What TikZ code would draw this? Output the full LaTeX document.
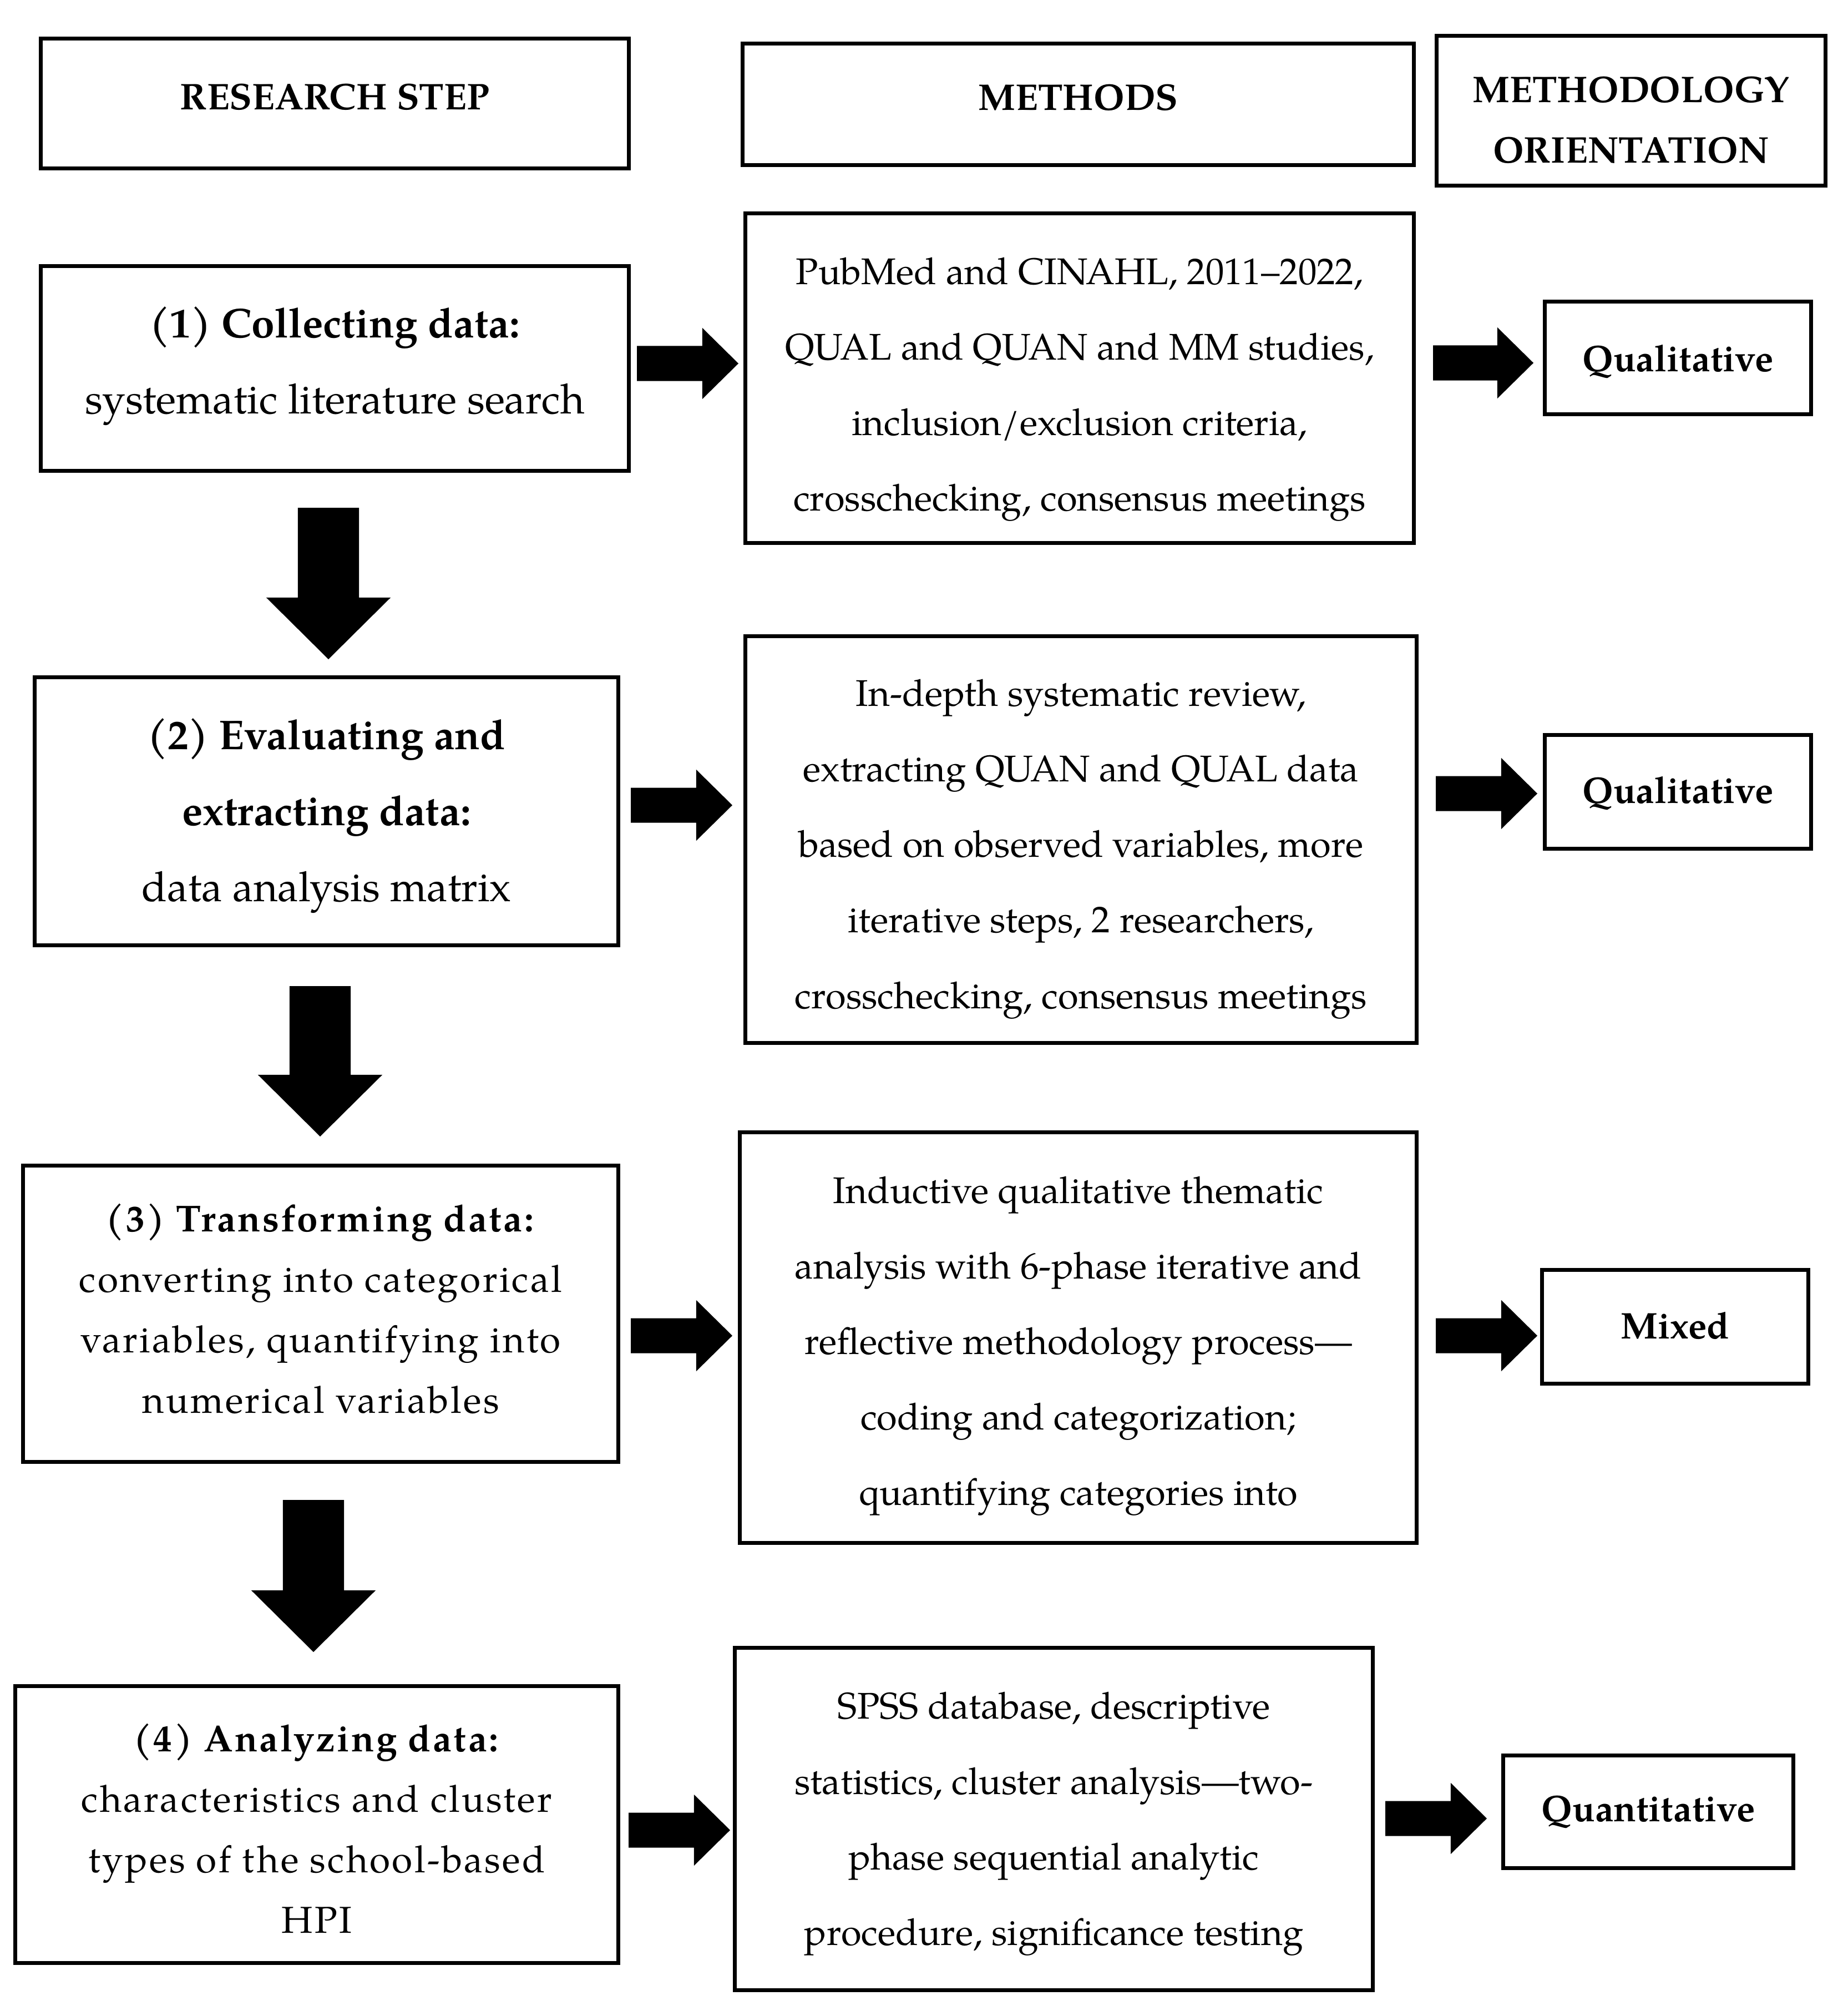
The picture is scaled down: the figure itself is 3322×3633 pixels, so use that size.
\documentclass[tikz,border=0pt]{standalone}
\usepackage{fontspec}
\setmainfont{texgyrepagella}[Extension=.otf, UprightFont=*-regular, BoldFont=*-bold, ItalicFont=*-italic, BoldItalicFont=*-bolditalic]
\newfontfamily\widefont{texgyrepagella}[Extension=.otf, UprightFont=*-regular, BoldFont=*-bold, LetterSpace=5]
\usetikzlibrary{calc}
\tikzset{
  box/.style={draw, line width=0.07cm, inner sep=0pt},
  txt/.style={inner sep=0pt, align=center},
  headtxt/.style={txt, font=\bfseries\fontsize{19pt}{31pt}\selectfont},
  steptxt/.style={txt, font=\fontsize{21.3pt}{39pt}\selectfont},
  widetxt/.style={txt, font=\widefont\fontsize{19.2pt}{31pt}\selectfont},
  methtxt/.style={txt, font=\fontsize{19pt}{38.7pt}\selectfont},
  oritxt/.style={txt, font=\bfseries\fontsize{19pt}{31pt}\selectfont},
  blockarrow/.style={fill=black}
}
\newcommand\harrow[2]{\fill[blockarrow] let \p1=(#1), \p2=(#2) in
  (\x1,\y1+0.315cm) -- (\x2-0.65cm,\y1+0.315cm) -- (\x2-0.65cm,\y1+0.64cm) --
  (\x2,\y1) -- (\x2-0.65cm,\y1-0.64cm) -- (\x2-0.65cm,\y1-0.315cm) -- (\x1,\y1-0.315cm) -- cycle;}
\newcommand\varrow[2]{\fill[blockarrow] let \p1=(#1), \p2=(#2) in
  (\x1-0.55cm,\y1) -- (\x1+0.55cm,\y1) -- (\x1+0.55cm,\y2+1.11cm) -- (\x1+1.12cm,\y2+1.11cm) --
  (\x1,\y2) -- (\x1-1.12cm,\y2+1.11cm) -- (\x1-0.55cm,\y2+1.11cm) -- cycle;}
\begin{document}
\begin{tikzpicture}[x=0.01cm,y=-0.01cm]
\useasboundingbox[fill=white] (0,0) rectangle (3322,3633);

% headers
\node[box, minimum width=10.59cm, minimum height=2.33cm] (h1) at (603.5,186.5) {};
\node[box, minimum width=12.09cm, minimum height=2.18cm] (h2) at (1943.5,188) {};
\node[box, minimum width=7.00cm, minimum height=2.69cm] (h3) at (2940,199.5) {};
\node[headtxt] (h1t) at ($(h1.center)+(0,-12)$) {RESEARCH STEP};
\node[headtxt] (h2t) at ($(h2.center)+(0,-12)$) {METHODS};
\node[headtxt] (h3t) at ($(h3.center)+(0,17)$) {METHODOLOGY\\ORIENTATION};

% row 1
\node[box, minimum width=10.59cm, minimum height=3.68cm] (s1) at (603.5,664) {};
\node[box, minimum width=12.04cm, minimum height=5.93cm] (m1) at (1946,681.5) {};
\node[box, minimum width=4.79cm, minimum height=2.02cm] (o1) at (3024.5,645) {};
\node[steptxt] (s1t) at ($(s1.center)+(0,-4)$) {\textbf{(1) Collecting data:}\\systematic literature search};
\node[methtxt] (m1t) at ($(m1.center)+(0,20)$)
  {PubMed and CINAHL, 2011–2022,\\QUAL and QUAN and MM studies,\\inclusion/exclusion criteria,\\crosschecking, consensus meetings};
\node[oritxt] (o1t) at ($(o1.center)+(0,7)$) {Qualitative};

% row 2
\node[box, minimum width=10.51cm, minimum height=4.82cm] (s2) at (588.5,1462) {};
\node[box, minimum width=12.09cm, minimum height=7.32cm] (m2) at (1948.5,1513) {};
\node[box, minimum width=4.79cm, minimum height=2.04cm] (o2) at (3024.5,1427) {};
\node[steptxt] (s2t) at ($(s2.center)+(0,8)$) {\textbf{(2) Evaluating and}\\\textbf{extracting data:}\\data analysis matrix};
\node[methtxt] (m2t) at ($(m2.center)+(0,17)$)
  {In-depth systematic review,\\extracting QUAN and QUAL data\\based on observed variables, more\\iterative steps, 2 researchers,\\crosschecking, consensus meetings};
\node[oritxt] (o2t) at ($(o2.center)+(0,3)$) {Qualitative};

% row 3
\node[box, minimum width=10.72cm, minimum height=5.33cm] (s3) at (578,2367.5) {};
\node[box, minimum width=12.19cm, minimum height=7.39cm] (m3) at (1943.5,2410.5) {};
\node[box, minimum width=4.79cm, minimum height=2.04cm] (o3) at (3019.5,2391) {};
\node[widetxt] (s3t) at ($(s3.center)+(0,-9)$) {\textbf{(3) Transforming data:}\\converting into categorical\\variables, quantifying into\\numerical variables};
\node[methtxt] (m3t) at ($(m3.center)+(0,15)$)
  {Inductive qualitative thematic\\analysis with 6-phase iterative and\\reflective methodology process—\\coding and categorization;\\quantifying categories into};
\node[oritxt] (o3t) at ($(o3.center)+(0,-2)$) {Mixed};

% row 4
\node[box, minimum width=10.86cm, minimum height=4.98cm] (s4) at (571,3288) {};
\node[box, minimum width=11.49cm, minimum height=6.16cm] (m4) at (1899.5,3278) {};
\node[box, minimum width=5.22cm, minimum height=2.02cm] (o4) at (2971,3265) {};
\node[widetxt] (s4t) at ($(s4.center)+(0,7)$) {\textbf{(4) Analyzing data:}\\characteristics and cluster\\types of the school-based\\HPI};
\node[methtxt] (m4t) at ($(m4.center)+(0,9)$)
  {SPSS database, descriptive\\statistics, cluster analysis—two-\\phase sequential analytic\\procedure, significance testing};
\node[oritxt] (o4t) at ($(o4.center)+(0,0)$) {Quantitative};

% arrow end points
\coordinate (a1s) at (1148,655);  \coordinate (a1e) at (1331,655);
\coordinate (b1s) at (2583,654);  \coordinate (b1e) at (2764,654);
\coordinate (a2s) at (1137,1451); \coordinate (a2e) at (1320,1451);
\coordinate (b2s) at (2588,1430); \coordinate (b2e) at (2771,1430);
\coordinate (a3s) at (1137,2407); \coordinate (a3e) at (1320,2407);
\coordinate (b3s) at (2588,2407); \coordinate (b3e) at (2771,2407);
\coordinate (a4s) at (1133,3298); \coordinate (a4e) at (1316,3298);
\coordinate (b4s) at (2497,3277); \coordinate (b4e) at (2680,3277);
\coordinate (d1s) at (592,915);   \coordinate (d1e) at (592,1188);
\coordinate (d2s) at (577,1777);  \coordinate (d2e) at (577,2048);
\coordinate (d3s) at (565,2703);  \coordinate (d3e) at (565,2977);

\harrow{a1s}{a1e} \harrow{b1s}{b1e}
\harrow{a2s}{a2e} \harrow{b2s}{b2e}
\harrow{a3s}{a3e} \harrow{b3s}{b3e}
\harrow{a4s}{a4e} \harrow{b4s}{b4e}
\varrow{d1s}{d1e} \varrow{d2s}{d2e} \varrow{d3s}{d3e}
\end{tikzpicture}
\end{document}
